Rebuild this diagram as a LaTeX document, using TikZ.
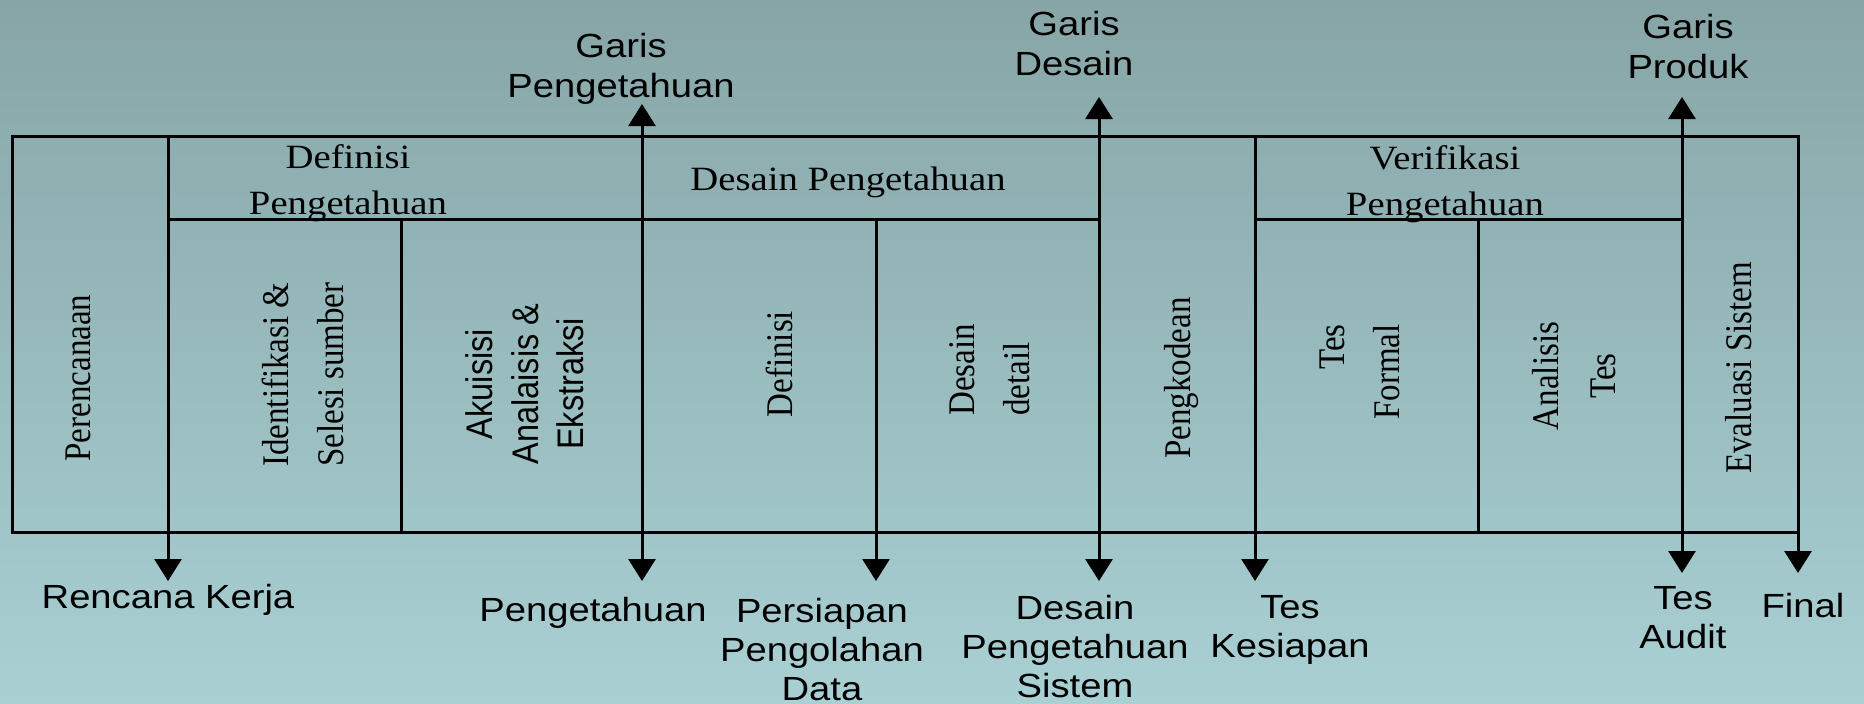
\documentclass[tikz,border=0pt]{standalone}
\usepackage{fontspec}
\usepackage{graphicx}
\usetikzlibrary{arrows.meta}
\setmainfont{Liberation Serif}
\newfontfamily\wideserif{Liberation Serif}[FakeStretch=1.14]
\newfontfamily\widesans{Liberation Sans}[FakeStretch=1.14]
\newfontfamily\plainsans{Liberation Sans}
% vertical cell captions: a tabular, stretched across the line direction
\newcommand\turnedtext[2]{\scalebox{1}[1.14]{\begin{tabular}{@{}#1@{}}#2\end{tabular}}}
\definecolor{bgtop}{HTML}{87A5A7}
\definecolor{bgbottom}{HTML}{A9D0D3}

\begin{document}
\begin{tikzpicture}[x=1pt,y=-1pt,
  grid/.style={line width=3pt},
  arr/.style={grid,-{Triangle[length=22pt,width=27pt]}},
  darr/.style={grid,{Triangle[length=22pt,width=27pt]}-{Triangle[length=22pt,width=27pt]}},
  outlbl/.style={font=\widesans\fontsize{33.5}{39}\selectfont,align=center,anchor=base,inner sep=0pt},
  toplbl/.style={outlbl,font=\widesans\fontsize{33.5}{40}\selectfont},
  headlbl/.style={font=\wideserif\fontsize{34}{46}\selectfont,align=center,anchor=base,inner sep=0pt},
  celllbl/.style={rotate=90,inner sep=0pt,font=\fontsize{33}{48}\selectfont},
  cellsans/.style={rotate=90,inner sep=0pt,font=\plainsans\fontsize{32.5}{40}\selectfont}]

% background
\shade[top color=bgtop,bottom color=bgbottom] (0,0) rectangle (1864,704);
\useasboundingbox (0,0) rectangle (1864,704);

% frame corners and grid points
\coordinate (tl) at (12,136);
\coordinate (br) at (1798,532);
\coordinate (hA) at (168,219);  \coordinate (hB) at (1099,219);
\coordinate (hC) at (1255,219); \coordinate (hD) at (1682,219);
\coordinate (v2t) at (401,219);  \coordinate (v2b) at (401,532);
\coordinate (v7t) at (1478,219); \coordinate (v7b) at (1478,532);

\coordinate (v1t) at (168,136);  \coordinate (v1b) at (168,581);
\coordinate (v3t) at (642,104);  \coordinate (v3b) at (642,581);
\coordinate (v4t) at (876,219);  \coordinate (v4b) at (876,581);
\coordinate (v5t) at (1099,97);  \coordinate (v5b) at (1099,581);
\coordinate (v6t) at (1255,136); \coordinate (v6b) at (1255,581);
\coordinate (v8t) at (1682,97);  \coordinate (v8b) at (1682,573);
\coordinate (v9t) at (1798,136); \coordinate (v9b) at (1798,573);

% table
\draw[grid] (tl) rectangle (br);
\draw[grid] (hA) -- (hB);
\draw[grid] (hC) -- (hD);
\draw[grid] (v2t) -- (v2b);
\draw[grid] (v7t) -- (v7b);

% milestone arrows
\draw[arr] (v1t) -- (v1b);
\draw[darr] (v3t) -- (v3b);
\draw[arr] (v4t) -- (v4b);
\draw[darr] (v5t) -- (v5b);
\draw[arr] (v6t) -- (v6b);
\draw[darr] (v8t) -- (v8b);
\draw[arr] (v9t) -- (v9b);

% baselines (anchored on the last line)
\node[toplbl] (gpeng) at (621,97) {Garis\\Pengetahuan};
\node[toplbl] (gdes) at (1074,75) {Garis\\Desain};
\node[toplbl] (gprod) at (1688,78) {Garis\\Produk};

% deliverables (anchored on the last line)
\node[outlbl] (rk) at (168,608) {Rencana Kerja};
\node[outlbl] (pg) at (593,621) {Pengetahuan};
\node[outlbl] (ppd) at (822,700) {Persiapan\\Pengolahan\\Data};
\node[outlbl] (dps) at (1075,697) {Desain\\Pengetahuan\\Sistem};
\node[outlbl] (tks) at (1290,657) {Tes\\Kesiapan};
\node[outlbl] (tau) at (1683,648) {Tes\\Audit};
\node[outlbl] (fin) at (1803,617) {Final};

% phase headers
\node[headlbl] (hdef) at (348,214) {Definisi\\Pengetahuan};
\node[headlbl] (hdes) at (848,190) {Desain Pengetahuan};
\node[headlbl] (hver) at (1445,215) {Verifikasi\\Pengetahuan};

% activities
\node[celllbl] (c1) at (80,378) {\turnedtext{c}{Perencanaan}};
\node[celllbl,anchor=west] (c2) at (305,467) {\turnedtext{l}{Identifikasi \&\\Selesi sumber}};
\node[cellsans] (c3) at (529,384) {\turnedtext{c}{Akuisisi\\Analaisis \&\\Ekstraksi}};
\node[celllbl] (c4) at (782,364) {\turnedtext{c}{Definisi}};
\node[celllbl,anchor=west] (c5) at (991,416) {\turnedtext{l}{Desain\\detail}};
\node[celllbl] (c6) at (1180,378) {\turnedtext{c}{Pengkodean}};
\node[celllbl,anchor=east] (c7) at (1361,324) {\turnedtext{r}{Tes\\Formal}};
\node[celllbl,font=\fontsize{33}{50}\selectfont] (c8) at (1576,376) {\turnedtext{c}{Analisis\\Tes}};
\node[celllbl] (c9) at (1741,368) {\turnedtext{c}{Evaluasi Sistem}};
\end{tikzpicture}
\end{document}
